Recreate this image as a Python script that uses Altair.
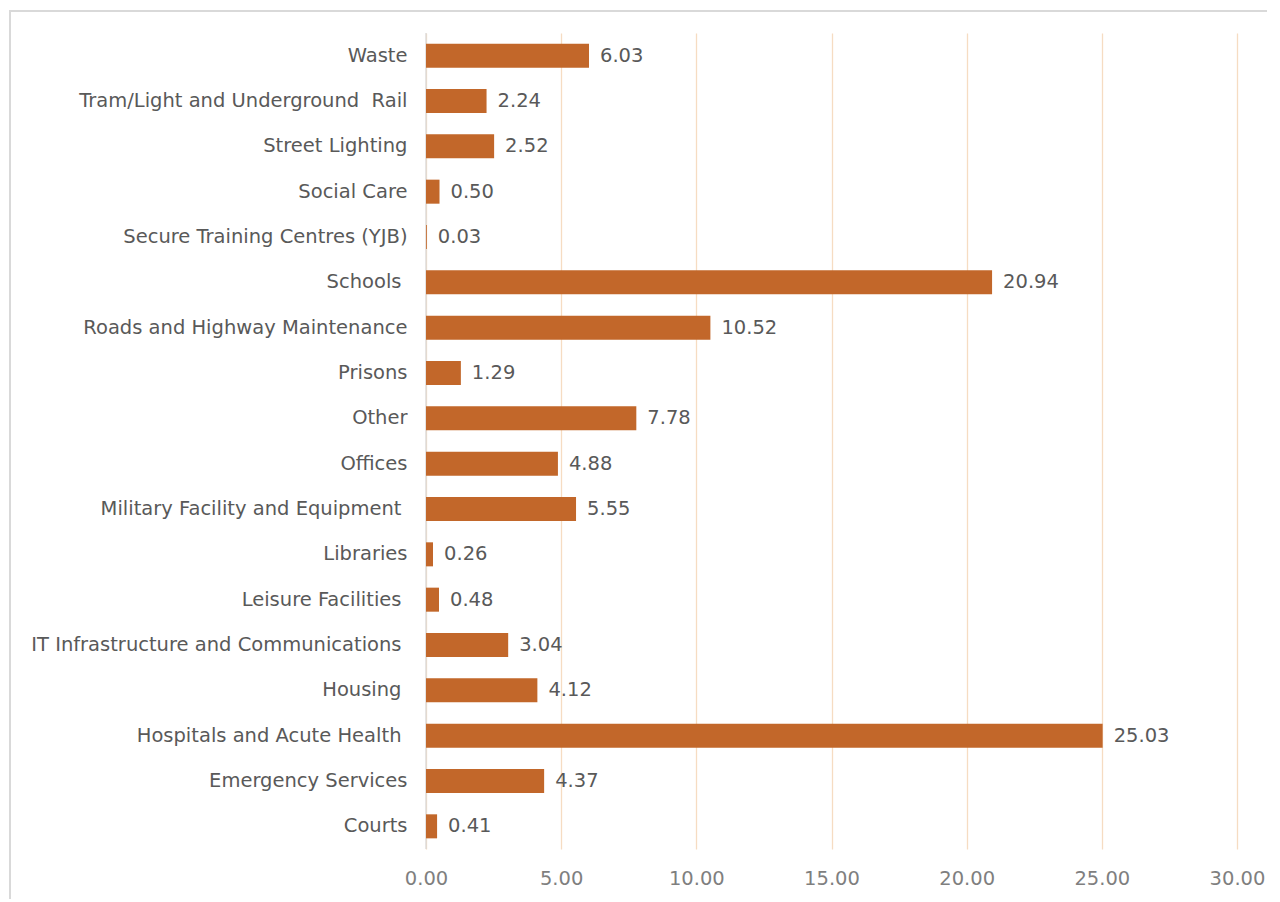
import altair as alt
import pandas as pd

categories = [
    "Waste",
    "Tram/Light and Underground  Rail",
    "Street Lighting",
    "Social Care",
    "Secure Training Centres (YJB)",
    "Schools ",
    "Roads and Highway Maintenance",
    "Prisons",
    "Other",
    "Offices",
    "Military Facility and Equipment ",
    "Libraries",
    "Leisure Facilities ",
    "IT Infrastructure and Communications ",
    "Housing ",
    "Hospitals and Acute Health ",
    "Emergency Services",
    "Courts",
]
values = [6.03, 2.24, 2.52, 0.50, 0.03, 20.94, 10.52, 1.29, 7.78, 4.88,
          5.55, 0.26, 0.48, 3.04, 4.12, 25.03, 4.37, 0.41]
x_ticks = [0, 5, 10, 15, 20, 25, 30]

df = pd.DataFrame({"category": categories, "value": values})

FONT = "DejaVu Sans"
FS = 19.5
W, H = 811, 816

# keep the double space of a label visible (SVG would collapse it)
label_expr = "replace(datum.label, regexp('  ', 'g'), ' \u00a0')"

y_enc = alt.Y(
    "category:N",
    sort=categories,
    title=None,
    scale=alt.Scale(paddingInner=0.47, paddingOuter=0.235),
    axis=alt.Axis(
        labelFont=FONT, labelFontSize=FS, labelColor="#595959",
        labelPadding={"condition": {"test": "test(regexp(' $'), datum.value)",
                                    "value": 25},
                      "value": 19},
        ticks=False, domain=False, grid=False,
        labelLimit=500, labelExpr=label_expr,
    ),
)
x_enc = alt.X(
    "value:Q",
    title=None,
    scale=alt.Scale(domain=[0, 30], nice=False, zero=True),
    axis=alt.Axis(
        values=x_ticks, format=".2f", labelFont=FONT, labelFontSize=FS,
        labelColor="#7f7f7f", labelPadding=20, labelFlush=False,
        ticks=False, domain=False,
        grid=True, gridColor="#F6DCC2", gridWidth=1.3,
    ),
)

frame = alt.Chart(pd.DataFrame({"a": [0]})).mark_rect(
    fill=None, stroke="#D9D9D9", strokeWidth=2
).encode(
    x=alt.value(-416), x2=alt.value(880),
    y=alt.value(-22), y2=alt.value(900),
)

zero_line = alt.Chart(pd.DataFrame({"z": [0]})).mark_rule(
    color="#D9D9D9", strokeWidth=1.3
).encode(x=alt.X("z:Q", scale=alt.Scale(domain=[0, 30], nice=False)))

bars = alt.Chart(df).mark_bar(color="#C2672A").encode(x=x_enc, y=y_enc)

labels = alt.Chart(df).mark_text(
    align="left", baseline="middle", dx=11, font=FONT, fontSize=FS,
    color="#595959",
).encode(
    x=alt.X("value:Q", scale=alt.Scale(domain=[0, 30], nice=False)),
    y=alt.Y("category:N", sort=categories),
    text=alt.Text("value:Q", format=".2f"),
)

chart = alt.layer(frame, zero_line, bars, labels).properties(
    width=W, height=H,
    autosize=alt.AutoSizeParams(type="none"),
    padding={"left": 418, "top": 25, "right": 30, "bottom": 50},
).configure(background="white").configure_view(stroke=None)

chart.save("out.html", embed_options={"renderer": "svg", "actions": False})
